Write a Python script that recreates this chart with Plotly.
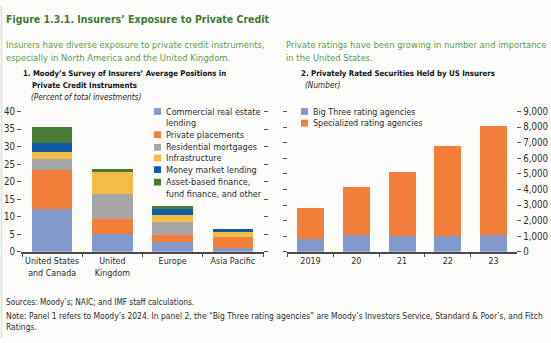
import plotly.graph_objects as go

W, H = 551, 343

# Panel 1: Moody's survey, percent of total investments
regions = ["United States<br>and Canada", "United<br>Kingdom", "Europe", "Asia Pacific"]
cre_lending = [12.2, 5.1, 2.9, 1.2]
private_placements = [11.1, 4.2, 2.0, 3.0]
residential_mortgages = [3.3, 7.2, 3.6, 0.0]
infrastructure = [2.0, 6.5, 1.9, 1.8]
money_market = [2.5, 0.0, 2.2, 0.5]
asset_based = [4.6, 0.5, 0.5, 0.0]

# Panel 2: privately rated securities held by US insurers (number)
years = ["2019", "20", "21", "22", "23"]
big_three = [850, 1100, 1000, 1000, 1100]
specialized = [1960, 3080, 4110, 5790, 6990]

left_ticks = [0, 5, 10, 15, 20, 25, 30, 35, 40]
right_ticks = [0, 1000, 2000, 3000, 4000, 5000, 6000, 7000, 8000, 9000]

C_CRE = "#8399cb"
C_PP = "#f47f3b"
C_RM = "#a7a7a7"
C_INF = "#f3bd45"
C_MM = "#0e5ba6"
C_ABF = "#4a7b34"

FONT = "DejaVu Sans Condensed, Liberation Sans Narrow, sans-serif"
TXT = "#2b2b2b"
GREEN_T = "#3f7a31"
GREEN_S = "#5e9a4c"


def px(x):
    return x / W


def py(y):
    return 1 - y / H


panel1 = [
    ("Commercial real estate<br>lending", cre_lending, C_CRE),
    ("Private placements", private_placements, C_PP),
    ("Residential mortgages", residential_mortgages, C_RM),
    ("Infrastructure", infrastructure, C_INF),
    ("Money market lending", money_market, C_MM),
    ("Asset-based finance,<br>fund finance, and other", asset_based, C_ABF),
]
panel2 = [
    ("Big Three rating agencies", big_three, C_CRE),
    ("Specialized rating agencies", specialized, C_PP),
]

fig = go.Figure()
for name, vals, col in panel1:
    fig.add_trace(go.Bar(x=regions, y=vals, name=name, marker_color=col, width=0.67,
                         marker_line_width=0, xaxis="x", yaxis="y", showlegend=False))
for name, vals, col in panel2:
    fig.add_trace(go.Bar(x=years, y=vals, name=name, marker_color=col, width=0.59,
                         marker_line_width=0, xaxis="x2", yaxis="y2", showlegend=False))

y_dom = [py(254), py(109)]
tickfont = dict(family=FONT, size=9.6, color=TXT)
xfont = dict(family=FONT, size=8.9, color=TXT)

fig.update_layout(
    width=W, height=H,
    margin=dict(l=0, r=0, t=0, b=0),
    paper_bgcolor="#fcfdfb", plot_bgcolor="rgba(0,0,0,0)",
    barmode="stack",
    showlegend=False,
    font=dict(family=FONT, color=TXT),
    xaxis=dict(domain=[px(22), px(263)], anchor="y", showline=True, linecolor="#4a4a4a",
               linewidth=1.5, ticks="outside", tickson="boundaries", ticklen=3,
               tickcolor="#4a4a4a", tickangle=0, tickfont=xfont, showgrid=False, zeroline=False),
    yaxis=dict(domain=y_dom, anchor="x", range=[0, 40], tickvals=left_ticks,
               ticks="outside", ticklen=4, tickcolor="#555", showline=True,
               linecolor="rgba(0,0,0,0)", mirror="ticks", tickfont=tickfont,
               showgrid=False, zeroline=False),
    xaxis2=dict(domain=[px(287.6), px(516.4)], anchor="y2", showline=True, linecolor="#4a4a4a",
                linewidth=1.5, ticks="outside", tickson="boundaries", ticklen=3,
                tickcolor="#4a4a4a", tickangle=0, tickfont=xfont, showgrid=False, zeroline=False),
    yaxis2=dict(domain=y_dom, anchor="x2", side="right", range=[0, 9000], tickvals=right_ticks,
                tickformat=",d", ticks="outside", ticklen=4, tickcolor="#555", showline=True,
                linecolor="rgba(0,0,0,0)", mirror="ticks", tickfont=tickfont,
                showgrid=False, zeroline=False),
)

ann = []
shapes = []


def text(x, y, s, size, color=TXT, bold=False, italic=False):
    if bold:
        s = f"<b>{s}</b>"
    if italic:
        s = f"<i>{s}</i>"
    ann.append(dict(x=px(x), y=py(y), xref="paper", yref="paper", text=s, showarrow=False,
                    xanchor="left", yanchor="middle", align="left",
                    font=dict(family=FONT, size=size, color=color)))


text(4, 13, "Figure 1.3.1. Insurers’ Exposure to Private Credit", 10.5, GREEN_T, bold=True)
text(4, 40, "Insurers have diverse exposure to private credit instruments,", 9.4, GREEN_S)
text(4, 53, "especially in North America and the United Kingdom.", 9.4, GREEN_S)
text(284, 40, "Private ratings have been growing in number and importance", 9.4, GREEN_S)
text(284, 53, "in the United States.", 9.4, GREEN_S)

text(21, 70, "1. Moody’s Survey of Insurers’ Average Positions in", 7.75, "#111", bold=True)
text(30, 82, "Private Credit Instruments", 7.75, "#111", bold=True)
text(29, 94, "(Percent of total investments)", 8.2, "#222", italic=True)
text(299, 70, "2. Privately Rated Securities Held by US Insurers", 7.8, "#111", bold=True)
text(303, 82, "(Number)", 8.2, "#222", italic=True)

# legend panel 1
leg1_rows = [109, 133, 146, 157, 169, 182]
for (name, _, col), yy in zip(panel1, leg1_rows):
    shapes.append(dict(type="rect", xref="paper", yref="paper", x0=px(154), x1=px(161),
                       y0=py(yy + 3.5), y1=py(yy - 3.5), fillcolor=col, line_width=0))
    parts = name.split("<br>")
    for i, p in enumerate(parts):
        text(164, yy + 12.2 * i, p, 9.0)

# legend panel 2
for (name, _, col), yy in zip(panel2, [109, 121]):
    shapes.append(dict(type="rect", xref="paper", yref="paper", x0=px(301), x1=px(308),
                       y0=py(yy + 3.5), y1=py(yy - 3.5), fillcolor=col, line_width=0))
    text(311, yy, name, 8.9)

text(4, 306, "Sources: Moody’s; NAIC; and IMF staff calculations.", 8.2)
text(4, 320, "Note: Panel 1 refers to Moody’s 2024. In panel 2, the “Big Three rating agencies” are Moody’s Investors Service, Standard & Poor’s, and Fitch", 8.45)
text(4, 332, "Ratings.", 8.45)

shapes.append(dict(type="line", xref="paper", yref="paper", x0=px(1.5), x1=px(1.5),
                   y0=0, y1=1, line=dict(color="#dbe7d4", width=1.5)))

fig.update_layout(annotations=ann, shapes=shapes)
fig.write_html("out.html")
